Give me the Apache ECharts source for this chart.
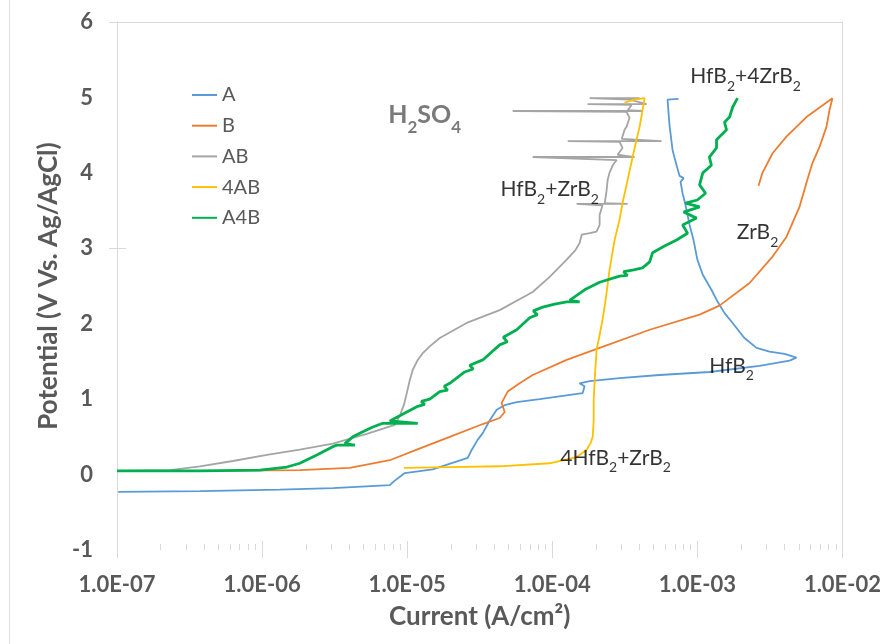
<!DOCTYPE html>
<html><head><meta charset="utf-8">
<script src="https://cdn.jsdelivr.net/npm/echarts@6/dist/echarts.min.js"></script>
<style>html,body{margin:0;padding:0;background:#fff}#c{width:884px;height:644px}</style>
</head><body><div id="c"></div><script>
// ---- data (current in A/cm2, potential in V vs Ag/AgCl) ----
const seriesNames = ['A', 'B', 'AB', '4AB', 'A4B'];
const seriesColors = ['#5B9BD5', '#ED7D31', '#A5A5A5', '#FFC000', '#00B050'];

const currentA = [1.02e-7, 3.73e-7, 1.33e-6, 3.07e-6, 7.59e-6, 8.09e-6, 9.63e-6, 1.50e-5, 2.61e-5, 2.79e-5, 3.06e-5, 3.32e-5, 3.71e-5, 4.14e-5, 4.70e-5, 5.69e-5, 8.19e-5, 1.62e-4, 1.67e-4, 1.54e-4, 1.81e-4, 2.91e-4, 5.49e-4, 1.21e-3, 2.68e-3, 4.32e-3, 4.82e-3, 3.99e-3, 3.14e-3, 2.56e-3, 2.11e-3, 1.75e-3, 1.54e-3, 1.38e-3, 1.25e-3, 1.09e-3, 1.00e-3, 9.41e-4, 8.84e-4, 8.29e-4, 7.91e-4, 7.66e-4, 8.04e-4, 7.54e-4, 7.19e-4, 6.75e-4, 6.43e-4, 6.23e-4, 6.14e-4, 7.42e-4];
const potentialA = [-0.23, -0.22, -0.20, -0.18, -0.14, -0.09, 0.02, 0.07, 0.22, 0.33, 0.46, 0.55, 0.72, 0.86, 0.92, 0.96, 1.00, 1.08, 1.17, 1.21, 1.24, 1.28, 1.32, 1.36, 1.44, 1.51, 1.55, 1.60, 1.63, 1.68, 1.81, 2.01, 2.14, 2.29, 2.45, 2.65, 2.85, 3.11, 3.31, 3.57, 3.73, 3.88, 3.93, 3.96, 4.10, 4.30, 4.63, 4.97, 4.99, 4.98];

const currentB = [1.0e-7, 3.73e-7, 1.82e-6, 4.02e-6, 7.59e-6, 1.165e-5, 1.965e-5, 3.32e-5, 4.34e-5, 4.70e-5, 4.48e-5, 4.93e-5, 5.96e-5, 7.33e-5, 1.257e-4, 2.12e-4, 4.69e-4, 1.036e-3, 1.42e-3, 2.29e-3, 3.30e-3, 4.11e-3, 5.06e-3, 5.65e-3, 6.21e-3, 6.94e-3, 7.76e-3, 8.14e-3, 8.53e-3, 5.65e-3, 4.11e-3, 3.30e-3, 2.81e-3, 2.64e-3];
const potentialB = [0.05, 0.05, 0.06, 0.09, 0.19, 0.33, 0.50, 0.67, 0.75, 0.83, 0.95, 1.10, 1.21, 1.32, 1.52, 1.68, 1.92, 2.12, 2.24, 2.54, 2.89, 3.15, 3.55, 3.87, 4.13, 4.34, 4.61, 4.83, 4.99, 4.74, 4.48, 4.26, 4.00, 3.83];

const currentAB = [1.0e-7, 2.32e-7, 3.73e-7, 6.29e-7, 1.079e-6, 1.82e-6, 3.07e-6, 5.27e-6, 8.21e-6, 8.89e-6, 9.48e-6, 9.94e-6, 1.042e-5, 1.093e-5, 1.183e-5, 1.281e-5, 1.431e-5, 1.677e-5, 2.57e-5, 4.34e-5, 7.33e-5, 9.60e-5, 1.257e-4, 1.449e-4, 1.544e-4, 1.594e-4, 1.81e-4, 2.02e-4, 2.12e-4, 2.12e-4, 2.22e-4, 1.47e-4, 3.31e-4, 2.30e-4, 2.37e-4, 2.41e-4, 2.48e-4, 2.61e-4, 2.78e-4, 7.33e-5, 3.69e-4, 2.82e-4, 3.05e-4, 2.91e-4, 1.277e-4, 5.67e-4, 3.01e-4, 3.15e-4, 3.25e-4, 3.41e-4, 3.25e-4, 5.34e-5, 4.19e-4, 3.31e-4, 3.52e-4, 1.75e-4, 4.47e-4, 3.41e-4, 1.81e-4, 4.00e-4];
const potentialAB = [0.05, 0.06, 0.11, 0.18, 0.26, 0.33, 0.41, 0.54, 0.66, 0.78, 0.92, 1.08, 1.25, 1.39, 1.52, 1.61, 1.70, 1.81, 2.01, 2.18, 2.42, 2.62, 2.85, 2.98, 3.07, 3.18, 3.20, 3.22, 3.31, 3.44, 3.57, 3.59, 3.59, 3.60, 3.77, 3.91, 4.00, 4.10, 4.17, 4.21, 4.21, 4.24, 4.33, 4.41, 4.42, 4.42, 4.45, 4.57, 4.61, 4.73, 4.81, 4.82, 4.82, 4.83, 4.90, 4.91, 4.91, 4.97, 4.99, 4.99];

const current4AB = [9.48e-6, 1.965e-5, 4.34e-5, 9.60e-5, 1.47e-4, 1.726e-4, 1.84e-4, 1.90e-4, 1.93e-4, 1.93e-4, 1.96e-4, 2.02e-4, 2.12e-4, 2.22e-4, 2.33e-4, 2.48e-4, 2.69e-4, 2.91e-4, 3.05e-4, 3.31e-4, 3.58e-4, 3.81e-4, 4.00e-4, 4.19e-4, 4.33e-4, 3.69e-4, 3.15e-4];
const potential4AB = [0.09, 0.10, 0.11, 0.15, 0.23, 0.33, 0.42, 0.50, 0.72, 0.99, 1.25, 1.65, 1.85, 2.05, 2.31, 2.71, 3.11, 3.38, 3.60, 3.91, 4.21, 4.44, 4.61, 4.83, 4.99, 4.97, 4.93];

const currentA4B = [1.0e-7, 3.73e-7, 9.66e-7, 1.482e-6, 1.82e-6, 2.385e-6, 3.07e-6, 3.27e-6, 4.36e-6, 3.72e-6, 4.22e-6, 5.11e-6, 5.80e-6, 6.79e-6, 1.183e-5, 7.59e-6, 8.89e-6, 1.165e-5, 1.32e-5, 1.25e-5, 1.431e-5, 1.677e-5, 1.90e-5, 1.80e-5, 1.965e-5, 2.49e-5, 2.85e-5, 2.70e-5, 3.32e-5, 4.34e-5, 4.9e-5, 4.6e-5, 5.69e-5, 6.99e-5, 7.9e-5, 7.4e-5, 8.59e-5, 1.039e-4, 1.257e-4, 1.544e-4, 1.318e-4, 1.67e-4, 2.12e-4, 2.91e-4, 3.3e-4, 3.1e-4, 3.58e-4, 4.19e-4, 4.69e-4, 4.91e-4, 5.94e-4, 7.19e-4, 8.56e-4, 7.91e-4, 9.87e-4, 8.04e-4, 1.036e-3, 8.29e-4, 1.00e-3, 1.139e-3, 1.036e-3, 1.09e-3, 1.25e-3, 1.21e-3, 1.356e-3, 1.356e-3, 1.589e-3, 1.54e-3, 1.667e-3, 1.75e-3, 1.892e-3];
const potentialA4B = [0.05, 0.05, 0.06, 0.10, 0.15, 0.26, 0.37, 0.39, 0.39, 0.41, 0.50, 0.58, 0.63, 0.68, 0.68, 0.71, 0.78, 0.90, 0.93, 0.97, 1.00, 1.10, 1.12, 1.17, 1.21, 1.36, 1.40, 1.45, 1.52, 1.72, 1.76, 1.82, 1.92, 2.08, 2.12, 2.17, 2.22, 2.26, 2.29, 2.29, 2.31, 2.45, 2.55, 2.63, 2.64, 2.69, 2.71, 2.74, 2.82, 2.94, 3.03, 3.11, 3.20, 3.31, 3.40, 3.48, 3.55, 3.60, 3.64, 3.73, 3.84, 4.00, 4.10, 4.21, 4.33, 4.44, 4.57, 4.67, 4.74, 4.87, 4.99];

// annotations
const annoText = ['H2SO4', 'HfB2+ZrB2', 'HfB2+4ZrB2', 'ZrB2', 'HfB2', '4HfB2+ZrB2'];
const annoCurrent = [1.32e-5, 9.6e-5, 2.15e-3, 2.6e-3, 1.72e-3, 2.73e-4];
const annoPotential = [4.77, 3.77, 5.27, 3.20, 1.43, 0.21];
const annoBold = [true, false, false, false, false, false];

// axis ticks
const xMin = 1e-7, xMax = 1e-2;
const yMin = -1, yMax = 6, yStep = 1;
const majorTicks = [1e-7, 1e-6, 1e-5, 1e-4, 1e-3, 1e-2];

// ---- build ----
const FONT = 'Lato';
const GRAY = '#595959';
const AXC = '#d9d9d9';
const minorTicks = [];
majorTicks.slice(0, -1).forEach(m => { for (let k = 2; k <= 9; k++) minorTicks.push(m * k); });

const xs = [currentA, currentB, currentAB, current4AB, currentA4B];
const ys = [potentialA, potentialB, potentialAB, potential4AB, potentialA4B];
const widths = [1.8, 1.8, 1.8, 1.8, 2.8];

function fmtExp(v) {
  const s = Number(v).toExponential(1);
  const [m, e] = s.split('e');
  const n = parseInt(e, 10);
  return m + 'E' + (n < 0 ? '-' : '+') + String(Math.abs(n)).padStart(2, '0');
}
function toRich(t, bold) {
  const p = bold ? 'b' : '';
  let out = '', cur = '', curType = null;
  for (let i = 0; i < t.length; i++) {
    const c = t[i];
    const sub = /\d/.test(c) && i > 0 && /[A-Za-z]/.test(t[i - 1]);
    const type = sub ? 's' : 'n';
    if (type !== curType && cur) { out += '{' + p + curType + '|' + cur + '}'; cur = ''; }
    curType = type; cur += c;
  }
  if (cur) out += '{' + p + curType + '|' + cur + '}';
  return out;
}

const series = seriesNames.map((name, i) => ({
  name, type: 'line', xAxisIndex: 0, yAxisIndex: 0,
  data: xs[i].map((x, j) => [x, ys[i][j]]),
  symbol: 'none', showSymbol: false, smooth: false,
  lineStyle: { width: widths[i], color: seriesColors[i] },
  itemStyle: { color: seriesColors[i] },
  z: 2 + i
}));
series.push({
  name: 'anno', type: 'scatter', xAxisIndex: 0, yAxisIndex: 0, symbolSize: 0, silent: true, z: 20,
  data: annoText.map((t, i) => [annoCurrent[i], annoPotential[i]]),
  label: {
    show: true, position: 'inside', offset: [0, 5],
    formatter: p => toRich(annoText[p.dataIndex], annoBold[p.dataIndex]),
    rich: {
      n: { fontFamily: FONT, fontSize: 21, color: '#000', lineHeight: 32, verticalAlign: 'top' },
      s: { fontFamily: FONT, fontSize: 14, color: '#000', lineHeight: 32, verticalAlign: 'top', padding: [13, 0, 0, 0] },
      bn: { fontFamily: FONT, fontSize: 25, fontWeight: 'bold', color: GRAY, lineHeight: 34, verticalAlign: 'top' },
      bs: { fontFamily: FONT, fontSize: 17, fontWeight: 'bold', color: GRAY, lineHeight: 34, verticalAlign: 'top', padding: [16, 0, 0, 0] }
    }
  }
});

const logAxisBase = { type: 'log', logBase: 10, min: xMin, max: xMax, gridIndex: 0, splitLine: { show: false }, minorTick: { show: false }, minorSplitLine: { show: false } };
const valAxisBase = { type: 'value', min: yMin, max: yMax, interval: yStep, gridIndex: 0, splitLine: { show: false } };

const option = {
  animation: false,
  backgroundColor: '#fff',
  grid: { left: 117, right: 41, top: 22, bottom: 94, containLabel: false },
  legend: {
    data: seriesNames, orient: 'vertical', left: 187, top: 80,
    icon: 'rect', itemWidth: 25, itemHeight: 2, itemGap: 10.7,
    textStyle: { fontFamily: FONT, fontSize: 20, color: GRAY, lineHeight: 20 }
  },
  xAxis: [
    Object.assign({}, logAxisBase, {
      position: 'bottom',
      axisLine: { show: false, onZero: false },
      axisTick: { show: true, length: 8, lineStyle: { color: AXC } },
      axisLabel: { fontFamily: FONT, fontSize: 22, fontWeight: 'bold', color: GRAY, margin: 24, formatter: fmtExp },
      name: 'Current (A/cm²)', nameLocation: 'middle', nameGap: 54,
      nameTextStyle: { fontFamily: FONT, fontSize: 26, fontWeight: 'bold', color: GRAY }
    }),
    Object.assign({}, logAxisBase, {
      position: 'bottom', axisLine: { show: false, onZero: false }, axisLabel: { show: false },
      axisTick: { show: true, inside: true, length: 6, customValues: minorTicks, lineStyle: { color: AXC } }
    }),
    Object.assign({}, logAxisBase, {
      position: 'bottom', axisLine: { show: false, onZero: false }, axisLabel: { show: false },
      axisTick: { show: true, inside: true, length: 9, customValues: majorTicks, lineStyle: { color: AXC } }
    }),
    Object.assign({}, logAxisBase, {
      position: 'top', axisLine: { show: true, onZero: false, lineStyle: { color: AXC } }, axisLabel: { show: false }, axisTick: { show: false }
    })
  ],
  yAxis: [
    Object.assign({}, valAxisBase, {
      position: 'left',
      axisLine: { show: true, onZero: false, lineStyle: { color: AXC } },
      axisTick: { show: true, length: 8, customValues: [3, 6], lineStyle: { color: AXC } },
      axisLabel: { fontFamily: FONT, fontSize: 22, fontWeight: 'bold', color: GRAY, margin: 24 },
      name: 'Potential (V Vs. Ag/AgCl)', nameLocation: 'middle', nameGap: 43,
      nameTextStyle: { fontFamily: FONT, fontSize: 26, fontWeight: 'bold', color: GRAY }
    }),
    Object.assign({}, valAxisBase, {
      position: 'left', axisLine: { show: false, onZero: false }, axisLabel: { show: false },
      axisTick: { show: true, inside: true, length: 9, customValues: [3], lineStyle: { color: AXC } }
    }),
    Object.assign({}, valAxisBase, {
      position: 'right', axisLine: { show: true, onZero: false, lineStyle: { color: AXC } }, axisLabel: { show: false }, axisTick: { show: false }
    })
  ],
  graphic: [{
    type: 'line', shape: { x1: 9.5, y1: 0, x2: 9.5, y2: 644 }, style: { stroke: '#e0e0e0', lineWidth: 1 }, silent: true
  }],
  series
};
const chart = echarts.init(document.getElementById('c'), null, { renderer: 'canvas' });
chart.setOption(option);
</script></body></html>
